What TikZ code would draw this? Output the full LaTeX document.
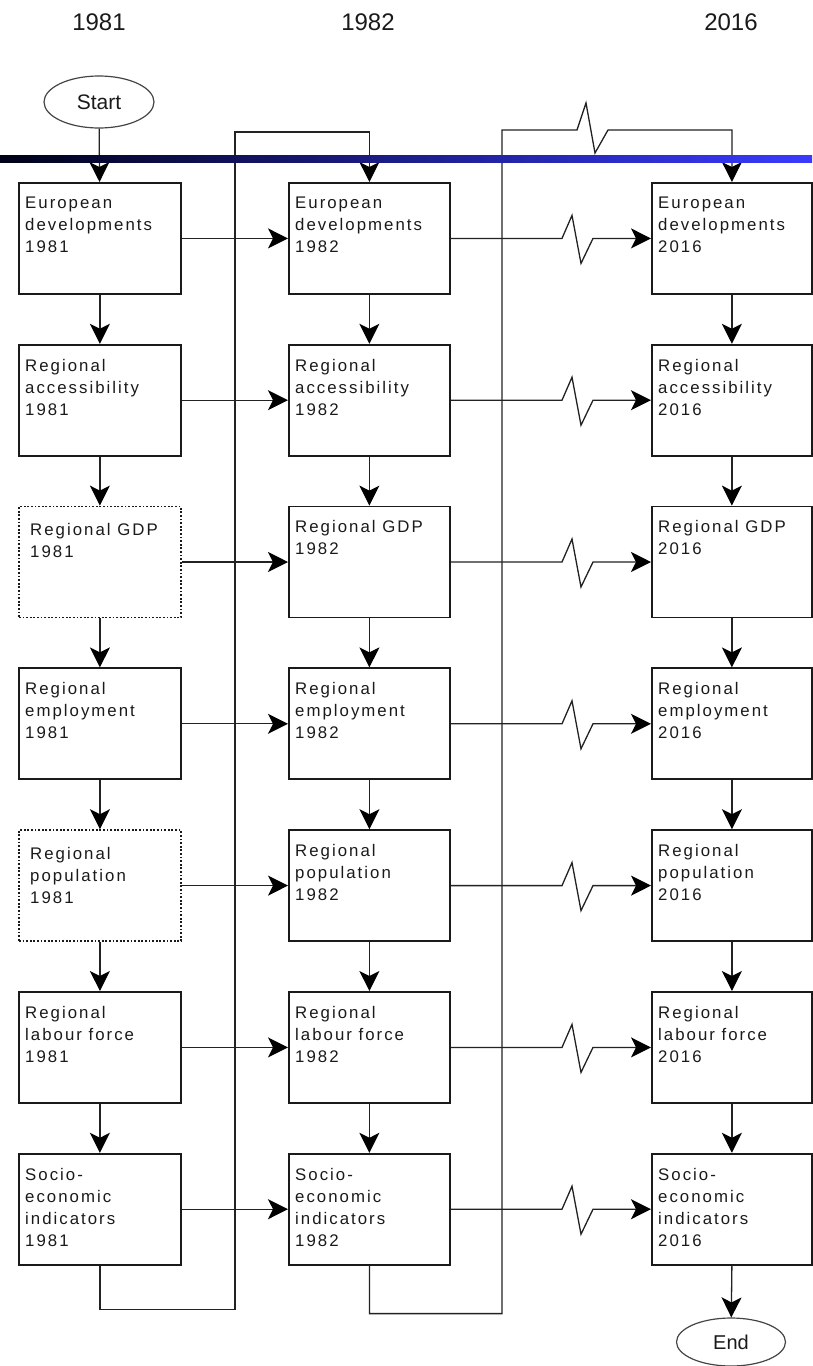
\documentclass[tikz,border=0pt]{standalone}
\usepackage{fontspec}
\setmainfont{Liberation Sans}
\newfontfamily\boxfont[LetterSpace=12]{Liberation Sans}
\usetikzlibrary{arrows.meta,calc,shapes.geometric}
\definecolor{boxc}{HTML}{1A1A1A}
\definecolor{txtc}{HTML}{1A1A1A}
\definecolor{linec}{HTML}{222222}
\definecolor{ellc}{HTML}{444444}
\definecolor{blueL}{HTML}{000018}
\definecolor{blueM}{HTML}{1E1ED2}
\definecolor{blueR}{HTML}{3A3AFF}
\tikzset{
  stepbox/.style={rectangle, draw=boxc, line width=1.8pt, anchor=north west,
    minimum height=111pt, inner sep=0pt},
  dotbox/.style={dash pattern=on 1.8pt off 1.8pt},
  boxtxt/.style={anchor=north west, inner sep=0pt, align=left,
    font=\boxfont\fontsize{16.8}{22}\selectfont, text=txtc},
  conn/.style={draw=linec, line width=1.3pt},
  arr/.style={conn, -{Stealth[length=20pt,width=20pt,inset=5pt,fill=black,color=black]}},
  term/.style={ellipse, draw=ellc, line width=1.2pt, inner sep=0pt, text=txtc},
  yearlbl/.style={font=\fontsize{24}{28}\selectfont, text=txtc, inner sep=0pt, anchor=base}
}
% name, x, y(top), width, text
\newcommand\mkbox[5]{%
  \node[stepbox, minimum width=#4pt] (#1) at (#2,#3) {};
  \node[boxtxt] (#1t) at ([xshift=7pt,yshift=-15pt]#1.north west) {#5};}
\newcommand\mkdbox[5]{%
  \node[stepbox, dotbox, minimum width=#4pt] (#1) at (#2,#3) {};
  \node[boxtxt] (#1t) at ([xshift=12pt,yshift=-18pt]#1.north west) {#5};}
\begin{document}
\begin{tikzpicture}[x=1pt,y=-1pt]
\useasboundingbox (0,0) rectangle (812,1366);
% year labels
\node[yearlbl] (y1) at (99,30) {1981};
\node[yearlbl] (y2) at (368,30) {1982};
\node[yearlbl] (y3) at (731,30) {2016};
% start / end
\node[term, minimum width=110pt, minimum height=52pt, font=\fontsize{21}{24}\selectfont] (start) at (99,102) {Start};
\node[term, minimum width=109pt, minimum height=48pt, font=\fontsize{20}{24}\selectfont] (finish) at (731,1342) {End};
% column 1
\mkbox{b11}{18}{182}{162}{European\\developments\\1981}
\mkbox{b21}{18}{343.8}{162}{Regional\\accessibility\\1981}
\mkdbox{b31}{18}{505.6}{162}{Regional GDP\\1981}
\mkbox{b41}{18}{667.4}{162}{Regional\\employment\\1981}
\mkdbox{b51}{18}{829.2}{162}{Regional\\population\\1981}
\mkbox{b61}{18}{991}{162}{Regional\\labour force\\1981}
\mkbox{b71}{18}{1152.8}{162}{Socio-\\economic\\indicators\\1981}
% column 2
\mkbox{b12}{288}{182}{161}{European\\developments\\1982}
\mkbox{b22}{288}{343.8}{161}{Regional\\accessibility\\1982}
\mkbox{b32}{288}{505.6}{161}{Regional GDP\\1982}
\mkbox{b42}{288}{667.4}{161}{Regional\\employment\\1982}
\mkbox{b52}{288}{829.2}{161}{Regional\\population\\1982}
\mkbox{b62}{288}{991}{161}{Regional\\labour force\\1982}
\mkbox{b72}{288}{1152.8}{161}{Socio-\\economic\\indicators\\1982}
% column 3
\mkbox{b13}{651}{182}{160}{European\\developments\\2016}
\mkbox{b23}{651}{343.8}{160}{Regional\\accessibility\\2016}
\mkbox{b33}{651}{505.6}{160}{Regional GDP\\2016}
\mkbox{b43}{651}{667.4}{160}{Regional\\employment\\2016}
\mkbox{b53}{651}{829.2}{160}{Regional\\population\\2016}
\mkbox{b63}{651}{991}{160}{Regional\\labour force\\2016}
\mkbox{b73}{651}{1152.8}{160}{Socio-\\economic\\indicators\\2016}
% helper coordinates
\coordinate (v1) at (235,132);
\coordinate (v2) at (502,130);
\coordinate (zt) at (577,0);
\coordinate (zr) at (562,0);
% start arrow
\draw[arr] (start) -- (b11);
% vertical arrows
\foreach \c in {1,2,3}{
  \foreach \r [evaluate=\r as \n using int(\r+1)] in {1,...,6}{
    \draw[arr] (b\r\c.south) -- (b\n\c.north);
  }
}
% end arrow
\draw[arr] (b73.south) -- (finish);
% horizontal arrows
\foreach \r in {1,...,7}{
  \draw[arr] (b\r1.east) -- (b\r2.west);
  \draw[arr] (b\r2.east) -- (zr |- b\r2.east) -- ++(10,-23) -- ++(9,48) -- ++(12,-25) -- (b\r3.west);
}
% loops
\draw[arr] (b71.south) -- ++(0,44) -| (v1) -| (b12.north);
\draw[arr] (b72.south) -- ++(0,48) -| (v2) -- (v2 -| zt) -- ++(9,-27) -- ++(9,50) -- ++(13,-23) -| (b13.north);
% blue rule
\shade[left color=blueL, middle color=blueM, right color=blueR] (0,155) rectangle (812,162);
\end{tikzpicture}
\end{document}
